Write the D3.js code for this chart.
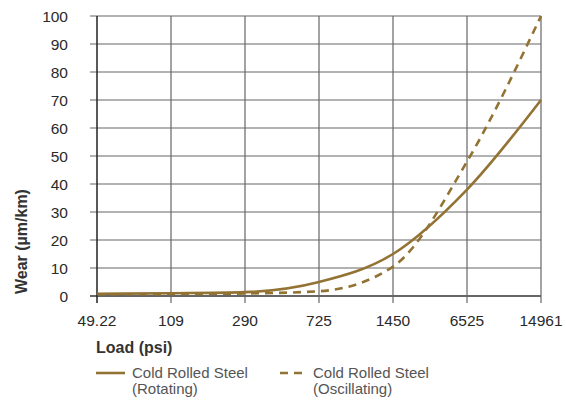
<!DOCTYPE html>
<html>
<head>
<meta charset="utf-8">
<script src="https://cdn.jsdelivr.net/npm/d3@7"></script>
<style>
  body { margin: 0; background: #fff; }
  svg { font-family: "Liberation Sans", Arial, Helvetica, sans-serif; }
</style>
</head>
<body>
<div id="chart"></div>
<script>
// Load categories (psi) and wear readings (um/km)
const loads = ['49.22', '109', '290', '725', '1450', '6525', '14961'];
const rotating = [0.8, 1, 1.4, 5, 15, 38, 70];
const oscillating = [0.6, 0.7, 0.9, 1.7, 10.5, 48, 100];
const yTicks = [0, 10, 20, 30, 40, 50, 60, 70, 80, 90, 100];

const width = 566, height = 404;
const margin = { left: 97, right: 25, top: 16, bottom: 108 };
const lineColor = '#937333';

const svg = d3.select('#chart').append('svg')
    .attr('width', width)
    .attr('height', height);

const x = d3.scalePoint()
    .domain(loads)
    .range([margin.left, width - margin.right]);

const y = d3.scaleLinear()
    .domain([0, 100])
    .range([height - margin.bottom, margin.top]);

// Grid
svg.append('g')
    .selectAll('line')
    .data(yTicks)
    .enter()
    .append('line')
    .attr('x1', margin.left - 7)
    .attr('x2', width - margin.right)
    .attr('y1', d => y(d))
    .attr('y2', d => y(d))
    .attr('stroke', d => d === 0 ? '#333' : '#666')
    .attr('stroke-width', d => d === 0 ? 1.5 : 1.2);

svg.append('g')
    .selectAll('line')
    .data(loads)
    .enter()
    .append('line')
    .attr('x1', d => x(d))
    .attr('x2', d => x(d))
    .attr('y1', y(100))
    .attr('y2', y(0) + 7)
    .attr('stroke', (d, i) => i === 0 ? '#222' : '#666')
    .attr('stroke-width', (d, i) => i === 0 ? 1.5 : 1.2);

// Tick labels
svg.append('g')
    .selectAll('text')
    .data(yTicks)
    .enter()
    .append('text')
    .attr('x', 68)
    .attr('y', d => y(d) + 5.5)
    .attr('text-anchor', 'end')
    .style('font-size', '15.5px')
    .style('fill', '#2a2a2a')
    .text(d => d);

svg.append('g')
    .selectAll('text')
    .data(loads)
    .enter()
    .append('text')
    .attr('x', d => x(d))
    .attr('y', 326)
    .attr('text-anchor', 'middle')
    .style('font-size', '15.5px')
    .style('fill', '#2a2a2a')
    .text(d => d);

// Axis titles
svg.append('text')
    .attr('transform', 'translate(27,294) rotate(-90)')
    .attr('text-anchor', 'start')
    .style('font-size', '16px')
    .style('font-weight', 'bold')
    .style('fill', '#333')
    .text('Wear (\u00b5m/km)');

svg.append('text')
    .attr('x', 96)
    .attr('y', 353)
    .style('font-size', '16px')
    .style('font-weight', 'bold')
    .style('fill', '#333')
    .text('Load (psi)');

// Lines
const line = d3.line()
    .x((d, i) => x(loads[i]))
    .y(d => y(d))
    .curve(d3.curveMonotoneX);

svg.append('path')
    .datum(oscillating)
    .attr('d', line)
    .attr('fill', 'none')
    .attr('stroke', lineColor)
    .attr('stroke-width', 2.6)
    .attr('stroke-dasharray', '8,6');

svg.append('path')
    .datum(rotating)
    .attr('d', line)
    .attr('fill', 'none')
    .attr('stroke', lineColor)
    .attr('stroke-width', 2.6);

// Legend
const legendItems = [
    { label: ['Cold Rolled Steel', '(Rotating)'], dash: null, x: 96, len: 29, textX: 36 },
    { label: ['Cold Rolled Steel', '(Oscillating)'], dash: '8,6', x: 280, len: 22, textX: 33 }
];

legendItems.forEach(d => {
    const g = svg.append('g').attr('transform', `translate(${d.x},373)`);
    g.append('line')
        .attr('x1', 0)
        .attr('x2', d.len)
        .attr('stroke', lineColor)
        .attr('stroke-width', 2.6)
        .attr('stroke-dasharray', d.dash);
    d.label.forEach((t, i) => {
        g.append('text')
            .attr('x', d.textX)
            .attr('y', 5 + i * 16)
            .style('font-size', '15px')
            .style('fill', '#555')
            .text(t);
    });
});
</script>
</body>
</html>
